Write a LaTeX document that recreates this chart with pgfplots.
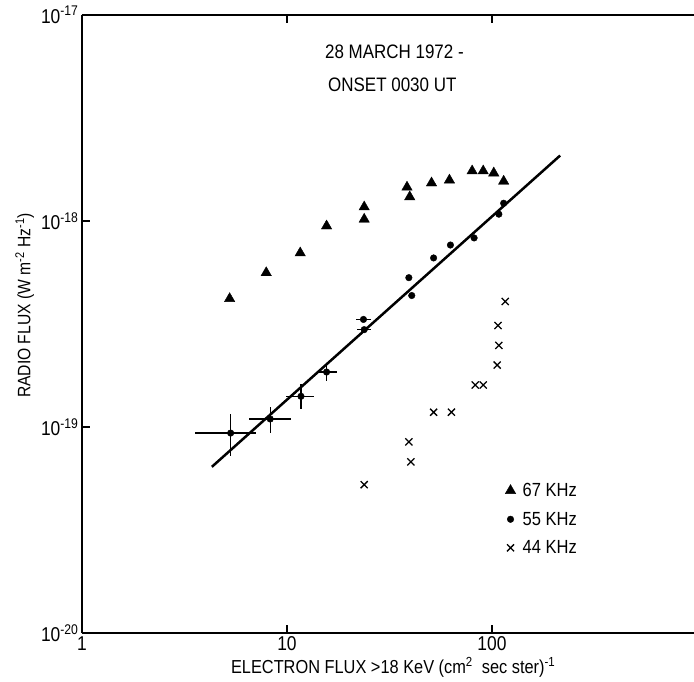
\documentclass[border=0pt]{standalone}
\usepackage{fontspec}
\setmainfont{Liberation Sans}[FakeStretch=0.87]
\usepackage{pgfplots}
\pgfplotsset{compat=1.18}
\usepackage{pgfplotstable}

% 67 KHz
\pgfplotstableread{
x y
5.25 4.20e-19
7.92 5.61e-19
11.6 7.00e-19
15.6 9.46e-19
23.8 1.17e-18
23.8 1.02e-18
38.5 1.46e-18
39.7 1.31e-18
50.7 1.53e-18
62.0 1.58e-18
80.0 1.75e-18
90.6 1.75e-18
102 1.71e-18
114 1.56e-18
}\tri

% 55 KHz (with error bars)
\pgfplotstableread{
x y exm exp eym eyp
5.31 9.35e-20 1.75 1.77 2.11e-20 2.21e-20
8.28 1.094e-19 1.79 2.17 1.59e-20 1.56e-20
11.7 1.41e-19 1.81 1.90 1.9e-20 2.0e-20
15.6 1.85e-19 1.3 2.0 1.8e-20 1.6e-20
23.6 3.33e-19 1.8 2.2 0 0
23.8 2.97e-19 1.9 2.0 0 0
39.3 5.31e-19 0 0 0 0
40.6 4.35e-19 0 0 0 0
51.9 6.62e-19 0 0 0 0
62.7 7.65e-19 0 0 0 0
81.8 8.28e-19 0 0 0 0
108 1.08e-18 0 0 0 0
114 1.22e-18 0 0 0 0
}\dots

% 44 KHz
\pgfplotstableread{
x y
116 4.07e-19
107 3.11e-19
108 2.49e-19
106 2.00e-19
82.8 1.60e-19
90.6 1.60e-19
51.9 1.18e-19
63.4 1.18e-19
39.3 8.47e-20
40.2 6.78e-20
23.8 5.25e-20
}\crs

\begin{document}
\begin{tikzpicture}
\begin{axis}[
  scale only axis, width=615pt, height=618pt,
  xmode=log, ymode=log,
  xmin=1, xmax=1000, ymin=1e-20, ymax=1e-17,
  axis x line=box, axis y line=left,
  axis line style={-, line width=1.3pt, black},
  xtick={1,10,100}, xticklabels={1,10,100},
  ytick={1e-20,1e-19,1e-18,1e-17},
  yticklabels={10\textsuperscript{-20},10\textsuperscript{-19},10\textsuperscript{-18},10\textsuperscript{-17}},
  xminorticks=false, yminorticks=false,
  tick align=inside, major tick length=8pt,
  tick style={line width=1.3pt, black},
  ticklabel style={font=\fontsize{20}{22}\selectfont},
  xlabel style={font=\fontsize{18.8}{22}\selectfont, at={(ticklabel cs:0.506)}},
  ylabel style={font=\fontsize{18}{21}\selectfont, at={(ticklabel cs:0.53)}},
  xlabel={ELECTRON FLUX >18 KeV (cm\textsuperscript{2}\ \ sec ster)\textsuperscript{-1}},
  ylabel={RADIO FLUX (W m\textsuperscript{-2} Hz\textsuperscript{-1})},
  legend style={draw=none, fill=none, at={(0.688,0.246)}, anchor=north west,
    font=\fontsize{19}{22}\selectfont, row sep=10pt, inner sep=0pt,
    /tikz/every odd column/.append style={column sep=5pt}},
  legend cell align=left,
  clip=false,
]
\addplot[black, only marks, mark=triangle*, mark size=6pt] table[x=x,y=y]{\tri};
\addlegendentry{67 KHz}
\addplot[black, only marks, mark=*, mark size=3.3pt,
  error bars/.cd, x dir=both, x explicit, y dir=both, y explicit,
  error mark=none, error bar style={line width=1.2pt, black}]
  table[x=x, y=y, x error plus=exp, x error minus=exm, y error plus=eyp, y error minus=eym]{\dots};
\addlegendentry{55 KHz}
\addplot[black, only marks, mark=x, mark size=5pt, mark options={line width=1.3pt}] table[x=x,y=y]{\crs};
\addlegendentry{44 KHz}
\addplot[black, line width=2.5pt, forget plot] coordinates {(4.30,6.41e-20) (215,2.08e-18)};
\node[anchor=west, font=\fontsize{19.5}{21}\selectfont, inner sep=0pt] at (rel axis cs:0.395,0.940) {28 MARCH 1972 -};
\node[anchor=west, font=\fontsize{19.5}{21}\selectfont, inner sep=0pt] at (rel axis cs:0.400,0.887) {ONSET 0030 UT};
\draw[line width=1.3pt] (rel axis cs:1,0.6667) -- ++(-8pt,0);
\draw[line width=1.3pt] (rel axis cs:1,0.3333) -- ++(-8pt,0);
\coordinate (O) at (rel axis cs:0,0);
\coordinate (T) at (rel axis cs:0,1);
\end{axis}
\pgfresetboundingbox
\path[use as bounding box] ([shift={(-82pt,-49pt)}]O) rectangle ([shift={(612pt,15pt)}]T);
\end{tikzpicture}
\end{document}
